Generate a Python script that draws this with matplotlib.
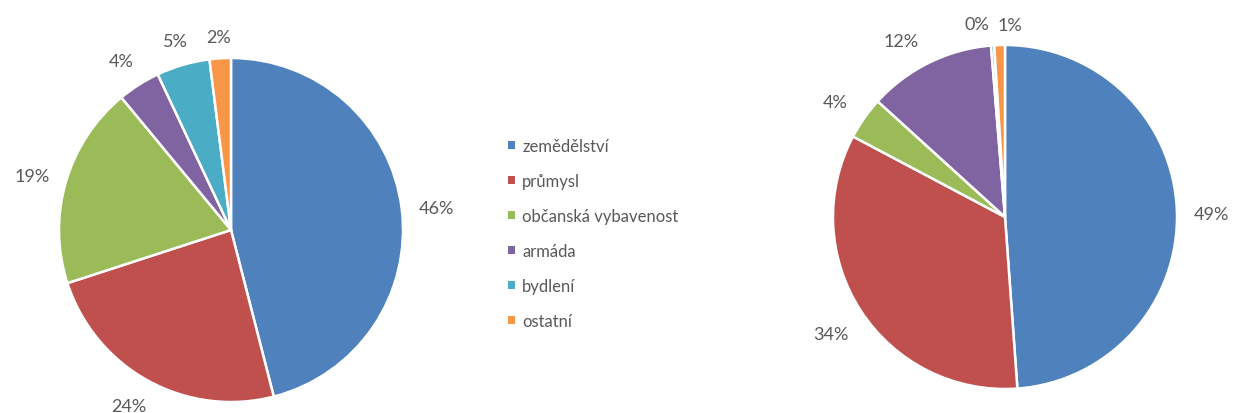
import numpy as np
import matplotlib.pyplot as plt
from matplotlib.patches import Patch

categories = ["zemědělství", "průmysl", "občanská vybavenost", "armáda", "bydlení", "ostatní"]
left_values = [46, 24, 19, 4, 5, 2]
right_values = [49, 34, 4, 12, 0.3, 1]
colors = ["#4F81BD", "#C0504D", "#9BBB59", "#8064A2", "#4BACC6", "#F79646"]

W, H = 1233, 414
R = 172  # pie radius in pixels
HALF = 215  # half-size of each pie axes in pixels
LABEL_GAP = 16  # pixels between pie edge and label box
LABEL_DROP = 4  # labels sit a little below the geometric spot


def pie_axes(fig, cx, cy):
    # cx, cy are pixel coordinates measured from the top-left corner
    return fig.add_axes([(cx - HALF) / W, (H - cy - HALF) / H, 2 * HALF / W, 2 * HALF / H])


def draw_pie(ax, values, nudges=None):
    wedges, texts, autotexts = ax.pie(
        values, colors=colors, startangle=90, counterclock=False,
        autopct="%.0f%%", pctdistance=1.2, radius=1,
        wedgeprops=dict(edgecolor="white", linewidth=1.8),
        textprops=dict(color="#595959", fontsize=13, family="Lato"),
    )
    ax.axis("off")
    lim = HALF / R
    ax.set_xlim(-lim, lim)
    ax.set_ylim(-lim, lim)
    ax.set_aspect("equal")

    # place each label just outside the rim, pushed out by its half extent
    nudges = nudges or {}
    for i, (w, t) in enumerate(zip(wedges, autotexts)):
        ang = np.deg2rad((w.theta1 + w.theta2) / 2)
        dx, dy = np.cos(ang), np.sin(ang)
        dist = 1 + (LABEL_GAP + 18 * abs(dx) + 8 * abs(dy)) / R
        nx, ny = nudges.get(i, (0, 0))
        t.set_position((dist * dx + nx / R, dist * dy + (ny - LABEL_DROP) / R))
        t.set_clip_on(False)
    return wedges


fig = plt.figure(figsize=(W / 100, H / 100), dpi=100)

ax1 = pie_axes(fig, 231, 231)
# keep the bottom label inside the figure
draw_pie(ax1, left_values, nudges={1: (-4, 6)})

ax2 = pie_axes(fig, 1005, 218)
# the two tiny slices at the top would collide, spread their labels apart
draw_pie(ax2, right_values, nudges={3: (-14, -2), 4: (-14, 0), 5: (11, 0)})

handles = [Patch(facecolor=c, edgecolor="none") for c in colors]
fig.legend(handles, categories, loc="upper left", bbox_to_anchor=(493 / W, 1 - 124 / H),
           frameon=False, handlelength=0.43, handleheight=0.43, handletextpad=0.42,
           labelspacing=1.14, prop=dict(family="Lato", size=12), labelcolor="#595959")

fig.savefig("out.png", dpi=100, facecolor="white")
